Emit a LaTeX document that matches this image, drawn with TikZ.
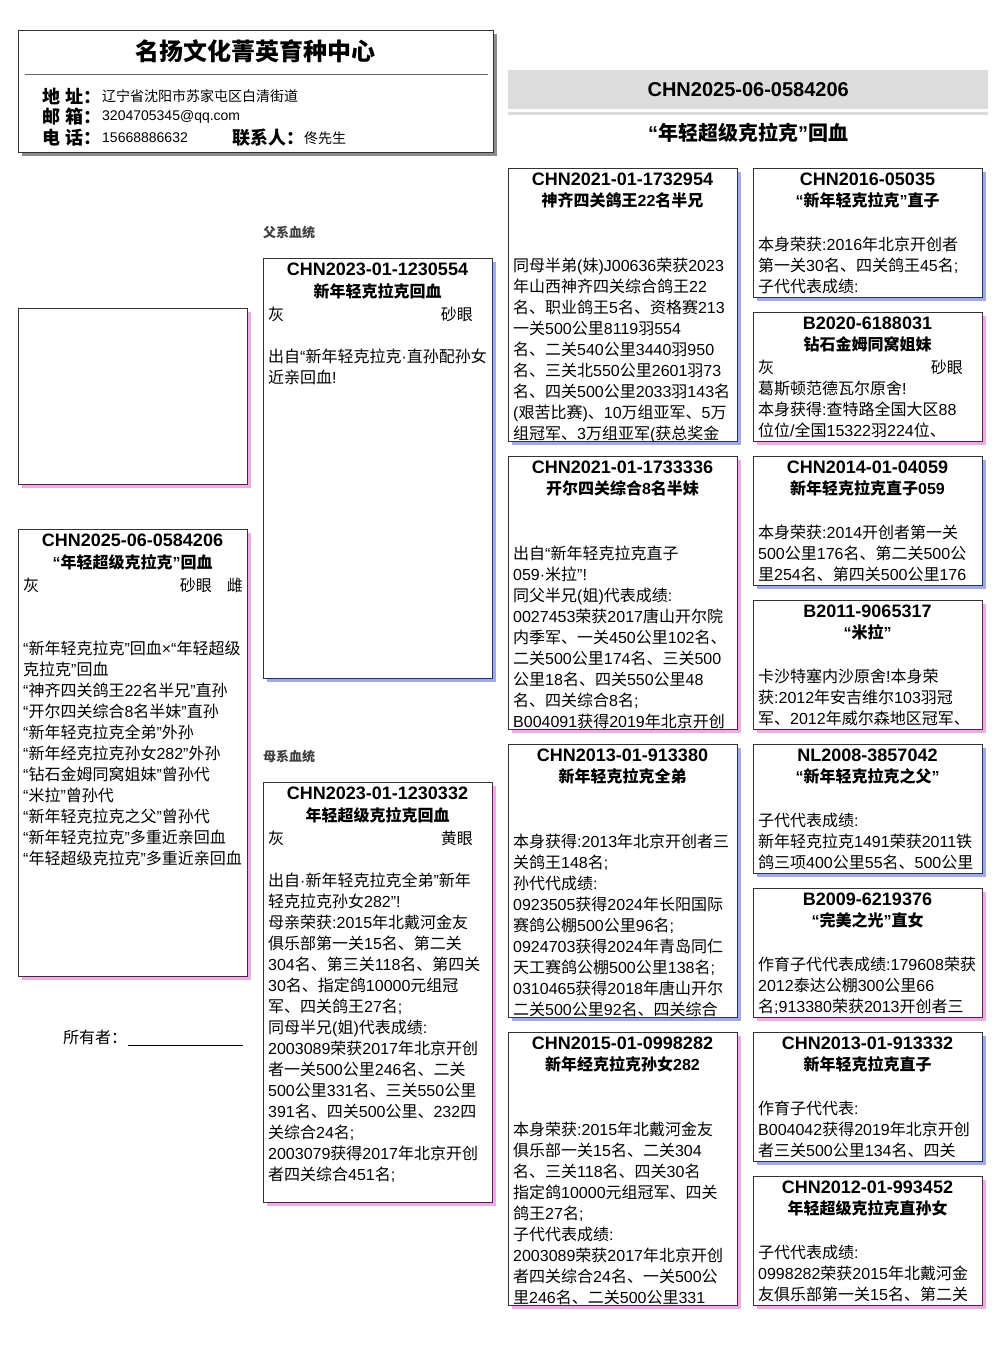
\documentclass[tikz,border=0pt]{standalone}
\usepackage{fontspec}
\setmainfont{Liberation Sans}
\newfontfamily\cjk{Noto Sans CJK SC}
\usetikzlibrary{shadows,positioning}
\definecolor{BoxLine}{HTML}{333333}
\definecolor{ShadowBlue}{HTML}{9DA9F0}
\definecolor{ShadowPink}{HTML}{F7A8EC}
\definecolor{ShadowGray}{HTML}{8C8C8C}
\definecolor{BandGray}{HTML}{DCDCDC}

% runs of CJK characters are set in the CJK font
\XeTeXinterchartokenstate=1
\newXeTeXintercharclass\cjkclass
\newcount\cjkcode
\cjkcode="20
\loop \XeTeXcharclass\cjkcode=0 \ifnum\cjkcode<"2FFF \advance\cjkcode by 1 \repeat
\cjkcode="3000
\loop \XeTeXcharclass\cjkcode=\cjkclass \ifnum\cjkcode<"9FFF \advance\cjkcode by 1 \repeat
\cjkcode="FF00
\loop \XeTeXcharclass\cjkcode=\cjkclass \ifnum\cjkcode<"FFEF \advance\cjkcode by 1 \repeat
\XeTeXinterchartoks 0 \cjkclass = {\begingroup\cjk}
\XeTeXinterchartoks 4095 \cjkclass = {\begingroup\cjk}
\XeTeXinterchartoks \cjkclass 0 = {\endgroup}
\XeTeXinterchartoks \cjkclass 4095 = {\endgroup}

\begin{document}
\begin{tikzpicture}[x=1pt,y=-1pt,
pedbox/.style={draw=BoxLine,line width=0.9pt,fill=white,anchor=north west,inner sep=0pt,outer sep=0pt,minimum width=229pt},
cock/.style={drop shadow={shadow xshift=4pt,shadow yshift=-4pt,fill=ShadowBlue,opacity=1}},
hen/.style={drop shadow={shadow xshift=4pt,shadow yshift=-4pt,fill=ShadowPink,opacity=1}},
ringno/.style={font=\fontsize{18}{20}\selectfont\bfseries,inner sep=0pt},
birdname/.style={font=\fontsize{16}{20}\selectfont\bfseries,inner sep=0pt},
notes/.style={font=\fontsize{16}{21}\selectfont,inner sep=0pt,anchor=north west,align=left},
plumage/.style={font=\fontsize{16}{21}\selectfont,inner sep=0pt,anchor=west},
eyesign/.style={font=\fontsize{16}{21}\selectfont,inner sep=0pt,anchor=east},
infolabel/.style={font=\fontsize{18}{21}\selectfont\bfseries,inner sep=0pt,anchor=west},
infotext/.style={font=\fontsize{14}{17}\selectfont,inner sep=0pt,anchor=west},
section/.style={font=\fontsize{13}{15}\selectfont\bfseries,text=black!75,inner sep=0pt,anchor=west}
]
\useasboundingbox (0,0) rectangle (1006,1366);

% loft header
\node[draw=BoxLine,line width=0.9pt,fill=white,anchor=north west,inner sep=0pt,minimum width=475pt,minimum height=122pt,
  drop shadow={shadow xshift=4pt,shadow yshift=-4pt,fill=ShadowGray,opacity=1}] (loft) at (18,30) {};
\node[font=\fontsize{24}{28}\selectfont\bfseries,inner sep=0pt] (loft-name) at (255,51) {名扬文化菁英育种中心};
\draw[black!60,line width=0.8pt] ([xshift=7pt,yshift=-44pt]loft.north west) -- ([xshift=-6pt,yshift=-44pt]loft.north east);
\node[infolabel] (addr-label) at (42,96) {地 址：};
\node[infotext] (addr) at (102,96) {辽宁省沈阳市苏家屯区白清街道};
\node[infolabel] (mail-label) at (42,117) {邮 箱：};
\node[infotext] (mail) at (102,117) {3204705345@qq.com};
\node[infolabel] (tel-label) at (42,138) {电 话：};
\node[infotext] (tel) at (102,138) {15668886632};
\node[infolabel] (contact-label) at (232,138) {联系人：};
\node[infotext] (contact) at (304,138) {佟先生};

% title band
\node[fill=BandGray,anchor=north west,inner sep=0pt,minimum width=480pt,minimum height=39pt] (band) at (508,70) {};
\node[font=\fontsize{20}{22}\selectfont\bfseries,inner sep=0pt] (band-ring) at (band.center) {CHN2025-06-0584206};
\node[fill=BandGray,anchor=north west,inner sep=0pt,minimum width=480pt,minimum height=2.5pt] (band-rule) at (508,112) {};
\node[font=\fontsize{20}{22}\selectfont\bfseries,inner sep=0pt] (band-name) at (748,133) {“年轻超级克拉克”回血};

% photo and the bird itself
\node[pedbox,hen,minimum height=176pt] (photo) at (18,308) {};
\node[pedbox,hen,minimum height=447pt] (bird) at (18,529) {};
\node[ringno,yshift=-11pt] (bird-ring) at (bird.north) {CHN2025-06-0584206};
\node[birdname,yshift=-33pt] (bird-name) at (bird.north) {“年轻超级克拉克”回血};
\node[plumage] (bird-colour) at ([xshift=5pt,yshift=-56pt]bird.north west) {灰};
\node[eyesign] (bird-eye) at ([xshift=-35pt,yshift=-56pt]bird.north east) {砂眼};
\node[eyesign] (bird-sex) at ([xshift=-4pt,yshift=-56pt]bird.north east) {雌};
\node[notes] (bird-notes) at ([xshift=5pt,yshift=-112pt]bird.north west) {“新年轻克拉克”回血×“年轻超级\\克拉克”回血\\“神齐四关鸽王22名半兄”直孙\\“开尔四关综合8名半妹”直孙\\“新年轻克拉克全弟”外孙\\“新年经克拉克孙女282”外孙\\“钻石金姆同窝姐妹”曾孙代\\“米拉”曾孙代\\“新年轻克拉克之父”曾孙代\\“新年轻克拉克”多重近亲回血\\“年轻超级克拉克”多重近亲回血};

\node[font=\fontsize{16}{20}\selectfont,inner sep=0pt,anchor=west] (owner) at (63,1037) {所有者：};
\coordinate (owner-line-start) at (128,1045);
\coordinate (owner-line-end) at (243,1045);
\draw[line width=0.8pt] (owner-line-start) -- (owner-line-end);

% parents
\node[section] (sire-label) at (263,233) {父系血统};
\node[pedbox,cock,minimum height=420pt] (sire) at (263,258) {};
\node[ringno,yshift=-11pt] (sire-ring) at (sire.north) {CHN2023-01-1230554};
\node[birdname,yshift=-33pt] (sire-name) at (sire.north) {新年轻克拉克回血};
\node[plumage] (sire-colour) at ([xshift=5pt,yshift=-56pt]sire.north west) {灰};
\node[eyesign] (sire-eye) at ([xshift=-19pt,yshift=-56pt]sire.north east) {砂眼};
\node[notes] (sire-notes) at ([xshift=5pt,yshift=-91pt]sire.north west) {出自“新年轻克拉克·直孙配孙女\\近亲回血!};

\node[section] (dam-label) at (263,757) {母系血统};
\node[pedbox,hen,minimum height=420pt] (dam) at (263,782) {};
\node[ringno,yshift=-11pt] (dam-ring) at (dam.north) {CHN2023-01-1230332};
\node[birdname,yshift=-33pt] (dam-name) at (dam.north) {年轻超级克拉克回血};
\node[plumage] (dam-colour) at ([xshift=5pt,yshift=-56pt]dam.north west) {灰};
\node[eyesign] (dam-eye) at ([xshift=-19pt,yshift=-56pt]dam.north east) {黄眼};
\node[notes] (dam-notes) at ([xshift=5pt,yshift=-91pt]dam.north west) {出自·新年轻克拉克全弟”新年\\轻克拉克孙女282”!\\母亲荣获:2015年北戴河金友\\俱乐部第一关15名、第二关\\304名、第三关118名、第四关\\30名、指定鸽10000元组冠\\军、四关鸽王27名;\\同母半兄(姐)代表成绩:\\2003089荣获2017年北京开创\\者一关500公里246名、二关\\500公里331名、三关550公里\\391名、四关500公里、232四\\关综合24名;\\2003079获得2017年北京开创\\者四关综合451名;};

% grandparents
\node[pedbox,cock,minimum height=273pt] (ss) at (508,168) {};
\begin{scope}
\clip (ss.north west) rectangle (ss.south east);
\node[ringno,yshift=-11pt] (ss-ring) at (ss.north) {CHN2021-01-1732954};
\node[birdname,yshift=-32pt] (ss-name) at (ss.north) {神齐四关鸽王22名半兄};
\node[notes] (ss-notes) at ([xshift=5pt,yshift=-90pt]ss.north west) {同母半弟(妹)J00636荣获2023\\年山西神齐四关综合鸽王22\\名、职业鸽王5名、资格赛213\\一关500公里8119羽554\\名、二关540公里3440羽950\\名、三关北550公里2601羽73\\名、四关500公里2033羽143名\\(艰苦比赛)、10万组亚军、5万\\组冠军、3万组亚军(获总奖金};
\end{scope}

\node[pedbox,hen,minimum height=273pt] (sd) at (508,456) {};
\begin{scope}
\clip (sd.north west) rectangle (sd.south east);
\node[ringno,yshift=-11pt] (sd-ring) at (sd.north) {CHN2021-01-1733336};
\node[birdname,yshift=-32pt] (sd-name) at (sd.north) {开尔四关综合8名半妹};
\node[notes] (sd-notes) at ([xshift=5pt,yshift=-90pt]sd.north west) {出自“新年轻克拉克直子\\059·米拉”!\\同父半兄(姐)代表成绩:\\0027453荣获2017唐山开尔院\\内季军、一关450公里102名、\\二关500公里174名、三关500\\公里18名、四关550公里48\\名、四关综合8名;\\B004091获得2019年北京开创};
\end{scope}

\node[pedbox,cock,minimum height=273pt] (ds) at (508,744) {};
\begin{scope}
\clip (ds.north west) rectangle (ds.south east);
\node[ringno,yshift=-11pt] (ds-ring) at (ds.north) {CHN2013-01-913380};
\node[birdname,yshift=-32pt] (ds-name) at (ds.north) {新年轻克拉克全弟};
\node[notes] (ds-notes) at ([xshift=5pt,yshift=-90pt]ds.north west) {本身获得:2013年北京开创者三\\关鸽王148名;\\孙代代成绩:\\0923505获得2024年长阳国际\\赛鸽公棚500公里96名;\\0924703获得2024年青岛同仁\\天工赛鸽公棚500公里138名;\\0310465获得2018年唐山开尔\\二关500公里92名、四关综合};
\end{scope}

\node[pedbox,hen,minimum height=273pt] (dd) at (508,1032) {};
\begin{scope}
\clip (dd.north west) rectangle (dd.south east);
\node[ringno,yshift=-11pt] (dd-ring) at (dd.north) {CHN2015-01-0998282};
\node[birdname,yshift=-32pt] (dd-name) at (dd.north) {新年经克拉克孙女282};
\node[notes] (dd-notes) at ([xshift=5pt,yshift=-90pt]dd.north west) {本身荣获:2015年北戴河金友\\俱乐部一关15名、二关304\\名、三关118名、四关30名\\指定鸽10000元组冠军、四关\\鸽王27名;\\子代代表成绩:\\2003089荣获2017年北京开创\\者四关综合24名、一关500公\\里246名、二关500公里331};
\end{scope}

% great-grandparents
\node[pedbox,cock,minimum height=129pt] (sss) at (753,168) {};
\begin{scope}
\clip (sss.north west) rectangle (sss.south east);
\node[ringno,yshift=-11pt] (sss-ring) at (sss.north) {CHN2016-05035};
\node[birdname,yshift=-32pt] (sss-name) at (sss.north) {“新年轻克拉克”直子};
\node[notes] (sss-notes) at ([xshift=5pt,yshift=-69pt]sss.north west) {本身荣获:2016年北京开创者\\第一关30名、四关鸽王45名;\\子代代表成绩:};
\end{scope}

\node[pedbox,hen,minimum height=129pt] (ssd) at (753,312) {};
\begin{scope}
\clip (ssd.north west) rectangle (ssd.south east);
\node[ringno,yshift=-11pt] (ssd-ring) at (ssd.north) {B2020-6188031};
\node[birdname,yshift=-32pt] (ssd-name) at (ssd.north) {钻石金姆同窝姐妹};
\node[plumage] (ssd-colour) at ([xshift=5pt,yshift=-55pt]ssd.north west) {灰};
\node[eyesign] (ssd-eye) at ([xshift=-19pt,yshift=-55pt]ssd.north east) {砂眼};
\node[notes] (ssd-notes) at ([xshift=5pt,yshift=-69pt]ssd.north west) {葛斯顿范德瓦尔原舍!\\本身获得:查特路全国大区88\\位位/全国15322羽224位、};
\end{scope}

\node[pedbox,cock,minimum height=129pt] (sds) at (753,456) {};
\begin{scope}
\clip (sds.north west) rectangle (sds.south east);
\node[ringno,yshift=-11pt] (sds-ring) at (sds.north) {CHN2014-01-04059};
\node[birdname,yshift=-32pt] (sds-name) at (sds.north) {新年轻克拉克直子059};
\node[notes] (sds-notes) at ([xshift=5pt,yshift=-69pt]sds.north west) {本身荣获:2014开创者第一关\\500公里176名、第二关500公\\里254名、第四关500公里176};
\end{scope}

\node[pedbox,hen,minimum height=129pt] (sdd) at (753,600) {};
\begin{scope}
\clip (sdd.north west) rectangle (sdd.south east);
\node[ringno,yshift=-11pt] (sdd-ring) at (sdd.north) {B2011-9065317};
\node[birdname,yshift=-32pt] (sdd-name) at (sdd.north) {“米拉”};
\node[notes] (sdd-notes) at ([xshift=5pt,yshift=-69pt]sdd.north west) {卡沙特塞内沙原舍!本身荣\\获:2012年安吉维尔103羽冠\\军、2012年威尔森地区冠军、};
\end{scope}

\node[pedbox,cock,minimum height=129pt] (dss) at (753,744) {};
\begin{scope}
\clip (dss.north west) rectangle (dss.south east);
\node[ringno,yshift=-11pt] (dss-ring) at (dss.north) {NL2008-3857042};
\node[birdname,yshift=-32pt] (dss-name) at (dss.north) {“新年轻克拉克之父”};
\node[notes] (dss-notes) at ([xshift=5pt,yshift=-69pt]dss.north west) {子代代表成绩:\\新年轻克拉克1491荣获2011铁\\鸽三项400公里55名、500公里};
\end{scope}

\node[pedbox,hen,minimum height=129pt] (dsd) at (753,888) {};
\begin{scope}
\clip (dsd.north west) rectangle (dsd.south east);
\node[ringno,yshift=-11pt] (dsd-ring) at (dsd.north) {B2009-6219376};
\node[birdname,yshift=-32pt] (dsd-name) at (dsd.north) {“完美之光”直女};
\node[notes] (dsd-notes) at ([xshift=5pt,yshift=-69pt]dsd.north west) {作育子代代表成绩:179608荣获\\2012泰达公棚300公里66\\名;913380荣获2013开创者三};
\end{scope}

\node[pedbox,cock,minimum height=129pt] (dds) at (753,1032) {};
\begin{scope}
\clip (dds.north west) rectangle (dds.south east);
\node[ringno,yshift=-11pt] (dds-ring) at (dds.north) {CHN2013-01-913332};
\node[birdname,yshift=-32pt] (dds-name) at (dds.north) {新年轻克拉克直子};
\node[notes] (dds-notes) at ([xshift=5pt,yshift=-69pt]dds.north west) {作育子代代表:\\B004042获得2019年北京开创\\者三关500公里134名、四关};
\end{scope}

\node[pedbox,hen,minimum height=129pt] (ddd) at (753,1176) {};
\begin{scope}
\clip (ddd.north west) rectangle (ddd.south east);
\node[ringno,yshift=-11pt] (ddd-ring) at (ddd.north) {CHN2012-01-993452};
\node[birdname,yshift=-32pt] (ddd-name) at (ddd.north) {年轻超级克拉克直孙女};
\node[notes] (ddd-notes) at ([xshift=5pt,yshift=-69pt]ddd.north west) {子代代表成绩:\\0998282荣获2015年北戴河金\\友俱乐部第一关15名、第二关};
\end{scope}
\end{tikzpicture}
\end{document}
